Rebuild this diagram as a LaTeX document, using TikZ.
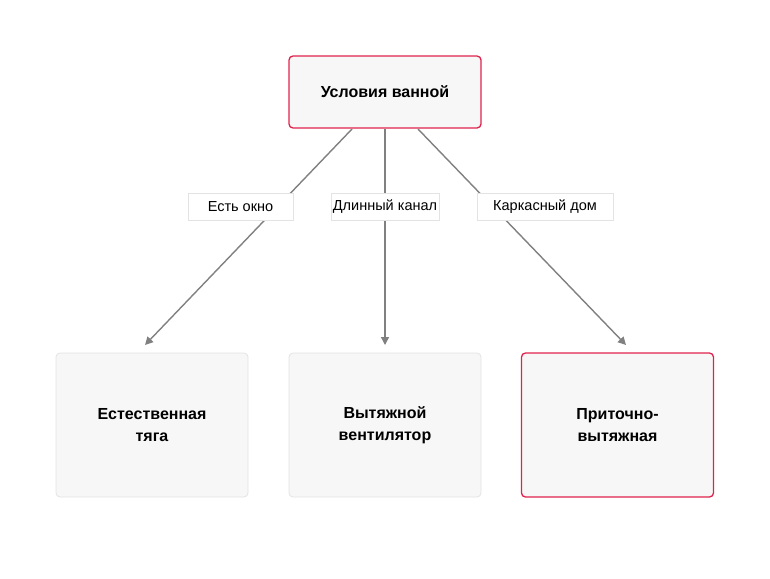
\documentclass[tikz,border=0pt]{standalone}
\usepackage{fontspec}
\setmainfont{Liberation Sans}
\usetikzlibrary{arrows.meta}
\definecolor{fillg}{HTML}{F7F7F7}
\definecolor{redb}{HTML}{E0234E}
\definecolor{grayb}{HTML}{E3E3E3}
\definecolor{arr}{HTML}{808080}
\begin{document}
\begin{tikzpicture}[x=1pt,y=-1pt,
 box/.style={draw=grayb,fill=fillg,rounded corners=4pt,minimum width=192pt,minimum height=144pt,align=center,font=\bfseries\fontsize{16}{22}\selectfont,line width=0.8pt},
 hot/.style={draw=redb,line width=1.3pt},
 lab/.style={draw=grayb,fill=white,minimum height=27pt,inner xsep=2pt,font=\fontsize{14.5}{17}\selectfont,line width=0.6pt},
 con/.style={draw=arr,line width=1.4pt,-{Triangle[length=8pt,width=8pt]}}]
\useasboundingbox (0,0) rectangle (770,578);
\node[box,hot,minimum height=72pt] (top) at (385,92) {Условия ванной};
\node[box] (a) at (152,425) {Естественная\\тяга};
\node[box] (b) at (385,425) {Вытяжной\\вентилятор};
\node[box,hot] (c) at (617.5,425) {Приточно-\\вытяжная};
\coordinate (ta) at (352,129); \coordinate (tc) at (418,129);
\coordinate (ea) at (145,345); \coordinate (eb) at (385,345); \coordinate (ec) at (626,345);
\draw[con] (ta) -- (ea);
\draw[con] (top.south) -- (eb);
\draw[con] (tc) -- (ec);
\node[lab,minimum width=105pt] (la) at (240.5,206.5) {Есть окно};
\node[lab,minimum width=104pt] (lb) at (385,206.5) {Длинный канал};
\node[lab,minimum width=136pt] (lc) at (545,206.5) {Каркасный дом};
\end{tikzpicture}
\end{document}
